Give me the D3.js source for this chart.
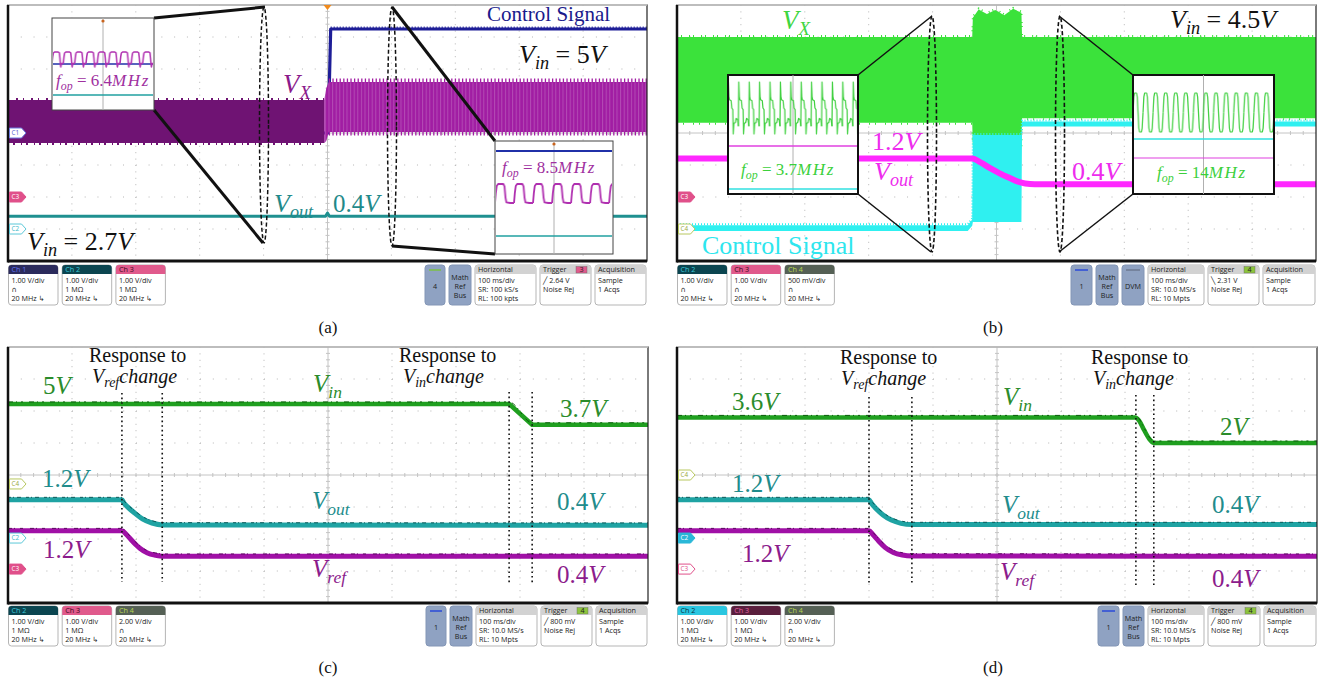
<!DOCTYPE html>
<html>
<head>
<meta charset="utf-8">
<script src="https://cdn.jsdelivr.net/npm/d3@7"></script>
<style>
  body { margin: 0; background: #fff; }
  svg { display: block; }
  .math { font-family: "Liberation Serif", "DejaVu Serif", serif; }
  .bar text { font-family: "Open Sans", "DejaVu Sans", sans-serif; font-size: 7.2px; fill: #222; }
</style>
</head>
<body>
<svg id="chart" width="1324" height="685"></svg>
<script>
// every capture: 100 ms/div over 10 divisions, time in ms
var timeSpan = [0, 1000];

// (a) Vin 2.7V -> 5V, all channels 1 V/div. Envelopes are [t, min V, max V]
var aVxBefore = [[0, 1.69, 3.03], [495, 1.69, 3.03]];
var aVxAfter = [[495, 1.69, 3.03], [498, 1.75, 3.4], [502, 2.03, 3.59], [1000, 2.03, 3.59]];
var aCtrl = [[0, 0], [501, 0], [505, 3.25], [1000, 3.25]];
var aVout = [[0, 0.4], [497, 0.4], [500, 0.5], [503, 0.4], [1000, 0.4]];

// (b) Vin = 4.5V, light load burst
var bVx = [[0, 1.66, 3.0], [462, 1.66, 3.0], [463, 1.3, 3.3], [472, 1.28, 3.43], [485, 1.3, 3.36],
  [498, 1.28, 3.42], [512, 1.3, 3.34], [526, 1.28, 3.44], [539, 1.3, 3.38], [540, 1.73, 3.0], [1000, 1.73, 3.0]];
var bCtrl = [[0, -0.03, 0.06], [455, -0.03, 0.06], [462, 0.05, 0.15], [463, 0.11, 1.47], [539, 0.11, 1.47],
  [540, 1.6, 1.68], [1000, 1.6, 1.68]];
var bVout = [[0, 1.2], [462, 1.2], [475, 1.08], [490, 0.9], [505, 0.74], [520, 0.6], [535, 0.47], [545, 0.42], [560, 0.4], [1000, 0.4]];

// (c) Vref step then Vin step 5V -> 3.7V
var cVin = [[0, 5], [783, 5], [819, 3.7], [1000, 3.7]];
var cVout = [[0, 1.2], [178, 1.2], [181, 1.1], [188, 0.95], [198, 0.78], [210, 0.6], [225, 0.47], [241, 0.41], [1000, 0.4]];
var cVref = [[0, 1.2], [178, 1.2], [185, 1.08], [195, 0.86], [206, 0.65], [218, 0.5], [231, 0.43], [241, 0.4], [1000, 0.4]];
var cMarks = [[178, 241], [783, 819]];

// (d) Vref step then Vin step 3.6V -> 2V
var dVin = [[0, 3.6], [716, 3.6], [722, 3.4], [730, 2.8], [738, 2.25], [746, 2.0], [1000, 2.0]];
var dVout = [[0, 1.2], [300, 1.2], [304, 1.08], [312, 0.9], [322, 0.72], [335, 0.56], [350, 0.46], [367, 0.42], [1000, 0.42]];
var dVref = [[0, 1.2], [300, 1.2], [306, 1.08], [315, 0.88], [325, 0.68], [338, 0.52], [352, 0.44], [367, 0.41], [1000, 0.4]];
var dMarks = [[300, 367], [717, 745]];

// zoomed insets: one switching period [phase, level 0..1] and number of periods shown
var aZoom1Period = [[0, 0.05], [0.06, 0.6], [0.12, 0.92], [0.22, 1], [0.55, 1], [0.65, 0.93], [0.7, 0.5], [0.74, 0], [0.78, -0.25], [0.83, 0.05], [1, 0.05]];
var aZoom1Cycles = 9;
var aZoom2Period = [[0, 0], [0.04, 0.5], [0.09, 0.9], [0.16, 1], [0.44, 1], [0.5, 0.88], [0.55, 0.3], [0.6, 0.03], [0.8, 0], [1, 0]];
var aZoom2Cycles = 6.2;
var bZoom1Period = [[0, 0.15], [0.04, 1], [0.09, 0.72], [0.14, 0.66], [0.3, 0.64], [0.36, 0.5], [0.46, 0.47], [0.5, 0], [0.56, 0.2], [0.7, 0.22], [0.78, 0.3], [0.92, 0.28], [1, 0.15]];
var bZoom1Cycles = 12.5;
var bZoom2Period = [[0, 0.5], [0.08, 0.9], [0.15, 1], [0.35, 1], [0.42, 0.9], [0.5, 0.5], [0.58, 0.1], [0.65, 0], [0.85, 0], [0.92, 0.1], [1, 0.5]];
var bZoom2Cycles = 14;

// status bar texts
var aChanInfo = [["Ch 1", "1.00 V/div", "\u2229", "20 MHz \u21b3"], ["Ch 2", "1.00 V/div", "1 M\u03a9", "20 MHz \u21b3"], ["Ch 3", "1.00 V/div", "1 M\u03a9", "20 MHz \u21b3"]];
var bChanInfo = [["Ch 2", "1.00 V/div", "\u2229", "20 MHz \u21b3"], ["Ch 3", "1.00 V/div", "\u2229", "20 MHz \u21b3"], ["Ch 4", "500 mV/div", "\u2229", "20 MHz \u21b3"]];
var cChanInfo = [["Ch 2", "1.00 V/div", "1 M\u03a9", "20 MHz \u21b3"], ["Ch 3", "1.00 V/div", "1 M\u03a9", "20 MHz \u21b3"], ["Ch 4", "2.00 V/div", "\u2229", "20 MHz \u21b3"]];
var dChanInfo = cChanInfo;
var aHoriz = ["100 ms/div", "SR: 100 kS/s", "RL: 100 kpts"];
var bHoriz = ["100 ms/div", "SR: 10.0 MS/s", "RL: 10 Mpts"];
var aTrig = ["3", "\u2571    2.64 V", "Noise Rej"];
var bTrig = ["4", "\u2572    2.31 V", "Noise Rej"];
var cTrig = ["4", "\u2571   800 mV", "Noise Rej"];
var acqInfo = ["Sample", "1 Acqs"];

var svg = d3.select("#chart");
var defs = svg.append("defs");

function scope(x0, y0, w, h) {
  var s = { x0: x0, y0: y0, w: w, h: h };
  s.t = d3.scaleLinear().domain(timeSpan).range([x0, x0 + w]);
  s.div = d3.scaleLinear().domain([-4, 4]).range([y0 + h, y0]);
  s.g = svg.append("g");
  var id = "clip" + x0 + "_" + y0;
  defs.append("clipPath").attr("id", id).append("rect")
    .attr("x", x0).attr("y", y0).attr("width", w).attr("height", h);
  grid(s);
  s.traces = s.g.append("g").attr("clip-path", "url(#" + id + ")");
  return s;
}

function grid(s) {
  var g = s.g.append("g");
  var dx = s.w / 10, dy = s.h / 8;
  g.append("rect").attr("x", s.x0).attr("y", s.y0).attr("width", s.w).attr("height", s.h).attr("fill", "#fff");
  d3.range(1, 10).forEach(function(i) {
    if (i === 5) return;
    g.append("line").attr("x1", s.x0 + i * dx).attr("x2", s.x0 + i * dx)
      .attr("y1", s.y0).attr("y2", s.y0 + s.h)
      .attr("stroke", "#b5b5b5").attr("stroke-dasharray", "1," + (dy / 5 - 1));
  });
  d3.range(1, 8).forEach(function(j) {
    if (j === 4) return;
    g.append("line").attr("x1", s.x0).attr("x2", s.x0 + s.w)
      .attr("y1", s.y0 + j * dy).attr("y2", s.y0 + j * dy)
      .attr("stroke", "#b5b5b5").attr("stroke-dasharray", "1," + (dx / 5 - 1));
  });
  var cx = s.x0 + 5 * dx, cy = s.y0 + 4 * dy;
  g.append("line").attr("x1", cx).attr("x2", cx).attr("y1", s.y0).attr("y2", s.y0 + s.h).attr("stroke", "#c4c4c4");
  g.append("line").attr("x1", s.x0).attr("x2", s.x0 + s.w).attr("y1", cy).attr("y2", cy).attr("stroke", "#c4c4c4");
  d3.range(1, 50).forEach(function(k) {
    g.append("line").attr("x1", s.x0 + k * dx / 5).attr("x2", s.x0 + k * dx / 5)
      .attr("y1", cy - 2).attr("y2", cy + 2).attr("stroke", "#c4c4c4");
  });
  d3.range(1, 40).forEach(function(k) {
    g.append("line").attr("x1", cx - 2).attr("x2", cx + 2)
      .attr("y1", s.y0 + k * dy / 5).attr("y2", s.y0 + k * dy / 5).attr("stroke", "#c4c4c4");
  });
}

function frame(s) {
  var g = svg.append("g");
  g.append("rect").attr("x", s.x0).attr("y", s.y0).attr("width", s.w).attr("height", s.h)
    .attr("fill", "none").attr("stroke", "#222").attr("stroke-width", 1.2);
  g.append("line").attr("x1", s.x0).attr("x2", s.x0 + s.w).attr("y1", s.y0).attr("y2", s.y0)
    .attr("stroke", "#d5d5d5").attr("stroke-width", 1.5);
  g.append("line").attr("x1", s.x0).attr("x2", s.x0).attr("y1", s.y0).attr("y2", s.y0 + s.h + 1.5)
    .attr("stroke", "#111").attr("stroke-width", 2.5);
  g.append("line").attr("x1", s.x0).attr("x2", s.x0 + s.w).attr("y1", s.y0 + s.h).attr("y2", s.y0 + s.h)
    .attr("stroke", "#111").attr("stroke-width", 3);
}

function chan(s, offset, vdiv) {
  return function(v) { return s.div(offset + v / vdiv); };
}
function lineGen(s, y) {
  return d3.line().x(function(d) { return s.t(d[0]); }).y(function(d) { return y(d[1]); });
}
function bandGen(s, y) {
  return d3.area().x(function(d) { return s.t(d[0]); })
    .y0(function(d) { return y(d[1]); }).y1(function(d) { return y(d[2]); });
}
function trace(s, data, y, color, width, curve) {
  var gen = lineGen(s, y);
  if (curve) gen.curve(d3.curveMonotoneX);
  s.traces.append("path").datum(data).attr("d", gen)
    .attr("fill", "none").attr("stroke", color).attr("stroke-width", width).attr("stroke-linejoin", "round");
  return gen;
}
// thin dashed edge that gives a trace its noisy look
function noisy(s, data, y, color, dy, dash) {
  s.traces.append("path").datum(data).attr("d", lineGen(s, y).curve(d3.curveMonotoneX))
    .attr("transform", "translate(0," + dy + ")")
    .attr("fill", "none").attr("stroke", color).attr("stroke-width", 1).attr("stroke-dasharray", dash);
}
// comb along one edge of an envelope (k = 1 for min, 2 for max)
function edge(s, data, y, k, shift, color, width, dash) {
  s.traces.append("path").datum(data)
    .attr("d", lineGen(s, y).y(function(d) { return y(d[k]) + shift; }))
    .attr("fill", "none").attr("stroke", color).attr("stroke-width", width).attr("stroke-dasharray", dash);
}

function marker(s, label, offset, stroke, fill, ink) {
  var y = s.div(offset), x = s.x0 + 1.5;
  var g = svg.append("g");
  g.append("path").attr("d", "M" + x + "," + (y - 5) + "h12l4.5,5l-4.5,5h-12z")
    .attr("fill", fill).attr("stroke", stroke).attr("stroke-width", 1);
  g.append("text").attr("x", x + 2).attr("y", y + 2.4)
    .attr("font-family", "Open Sans, sans-serif").attr("font-size", 6.4).attr("fill", ink).text(label);
}

function tex(x, y, size, color, parts) {
  var t = svg.append("text").attr("class", "math").attr("x", x).attr("y", y)
    .attr("font-size", size).attr("fill", color);
  var shift = 0;
  parts.forEach(function(p) {
    var kind = p.slice(0, 1), str = p.slice(2);
    var ts = t.append("tspan").text(str);
    if (kind === "s") {
      ts.attr("font-style", "italic").attr("font-size", size * 0.7).attr("dy", size * 0.22 - shift);
      shift = size * 0.22;
    } else {
      if (shift) ts.attr("dy", -shift);
      shift = 0;
      if (kind === "i") ts.attr("font-style", "italic");
      if (kind === "u") ts.attr("font-style", "italic").attr("letter-spacing", size * 0.1);
    }
  });
}

function insetBox(x0, y0, x1, y1, border, bw) {
  var g = svg.append("g");
  g.append("rect").attr("x", x0).attr("y", y0).attr("width", x1 - x0).attr("height", y1 - y0)
    .attr("fill", "#fff").attr("stroke", border).attr("stroke-width", bw);
  g.append("line").attr("x1", (x0 + x1) / 2).attr("x2", (x0 + x1) / 2).attr("y1", y0).attr("y2", y1)
    .attr("stroke", "#b0b0b0").attr("stroke-width", 1);
  return g;
}
function flat(g, x0, x1, y, color, w) {
  g.append("line").attr("x1", x0 + 1).attr("x2", x1 - 1).attr("y1", y).attr("y2", y)
    .attr("stroke", color).attr("stroke-width", w);
}
function wave(g, id, x0, x1, yTop, yBot, period, cycles, color, width) {
  var per = (x1 - x0) / cycles;
  var px = d3.scaleLinear().domain([0, 1]).range([0, per]);
  var py = d3.scaleLinear().domain([0, 1]).range([yBot, yTop]);
  var pat = defs.append("pattern").attr("id", id).attr("patternUnits", "userSpaceOnUse")
    .attr("x", x0).attr("y", 0).attr("width", per).attr("height", 685);
  [-1, 0, 1].forEach(function(k) {
    pat.append("path").datum(period)
      .attr("d", d3.line().x(function(d) { return px(d[0] + k); }).y(function(d) { return py(d[1]); }))
      .attr("fill", "none").attr("stroke", color).attr("stroke-width", width).attr("stroke-linejoin", "round");
  });
  g.append("rect").attr("x", x0 + 1).attr("y", yTop - 4).attr("width", x1 - x0 - 2)
    .attr("height", yBot - yTop + 8).attr("fill", "url(#" + id + ")");
}
function seg(x1, y1, x2, y2, w) {
  svg.append("line").attr("x1", x1).attr("y1", y1).attr("x2", x2).attr("y2", y2)
    .attr("stroke", "#111").attr("stroke-width", w);
}
function loop(cx, y1, y2, w) {
  svg.append("ellipse").attr("cx", cx).attr("cy", (y1 + y2) / 2).attr("rx", 4.5).attr("ry", (y2 - y1) / 2)
    .attr("fill", "none").attr("stroke", "#111").attr("stroke-width", w).attr("stroke-dasharray", "4,2.5");
}
function vmark(s, pair, y1, y2) {
  pair.forEach(function(t) {
    svg.append("line").attr("x1", s.t(t)).attr("x2", s.t(t)).attr("y1", y1).attr("y2", y2)
      .attr("stroke", "#111").attr("stroke-width", 1.6).attr("stroke-dasharray", "1.6,3");
  });
}

function roundTop(x, y0, w) {
  return "M" + x + "," + (y0 + 9) + "V" + (y0 + 3) + "Q" + x + "," + y0 + " " + (x + 3) + "," + y0 +
    "H" + (x + w - 3) + "Q" + (x + w) + "," + y0 + " " + (x + w) + "," + (y0 + 3) + "V" + (y0 + 9) + "Z";
}

// status bar under each screen
function bar(s, y0, chans, heads, right) {
  var g = svg.append("g").attr("class", "bar");
  var h = 40;
  chans.forEach(function(c, i) {
    var x = s.x0 + 0.5 + i * 53.7, w = 49.5;
    g.append("rect").attr("x", x).attr("y", y0).attr("width", w).attr("height", h).attr("rx", 3)
      .attr("fill", "#fff").attr("stroke", "#b5b5b5");
    g.append("path").attr("d", roundTop(x, y0, w)).attr("fill", heads[i][0]);
    g.append("text").attr("x", x + 3).attr("y", y0 + 7).style("fill", heads[i][1]).text(c[0]);
    c.slice(1).forEach(function(l, k) {
      g.append("text").attr("x", x + 3).attr("y", y0 + 17.5 + k * 9).text(l);
    });
  });
  var xr = s.x0 + s.w - 1;
  right.slice().reverse().forEach(function(b) {
    var w = b.w, x = xr - w;
    xr = x - 4;
    if (b.kind === "num" || b.kind === "math" || b.kind === "dvm") {
      g.append("rect").attr("x", x).attr("y", y0).attr("width", w).attr("height", h).attr("rx", 3)
        .attr("fill", "#8fa2c2").attr("stroke", "#8396b6");
      if (b.kind === "num") {
        g.append("line").attr("x1", x + 4).attr("x2", x + w - 4).attr("y1", y0 + 5).attr("y2", y0 + 5)
          .attr("stroke", b.line).attr("stroke-width", 1.5);
        g.append("text").attr("x", x + w / 2).attr("y", y0 + 24).attr("text-anchor", "middle").text(b.label);
      } else if (b.kind === "dvm") {
        g.append("line").attr("x1", x + 4).attr("x2", x + w - 4).attr("y1", y0 + 5).attr("y2", y0 + 5)
          .attr("stroke", "#6c7890").attr("stroke-width", 1.5);
        g.append("text").attr("x", x + w / 2).attr("y", y0 + 24).attr("text-anchor", "middle").text("DVM");
      } else {
        ["Math", "Ref", "Bus"].forEach(function(l, k) {
          g.append("text").attr("x", x + w / 2).attr("y", y0 + 15 + k * 9).attr("text-anchor", "middle").text(l);
        });
      }
      return;
    }
    g.append("rect").attr("x", x).attr("y", y0).attr("width", w).attr("height", h).attr("rx", 3)
      .attr("fill", "#fff").attr("stroke", "#b5b5b5");
    g.append("path").attr("d", roundTop(x, y0, w)).attr("fill", "#d2d2d2");
    g.append("text").attr("x", x + 3).attr("y", y0 + 7).text(b.head);
    if (b.kind === "trig") {
      g.append("rect").attr("x", x + w - 15).attr("y", y0 + 1.5).attr("width", 11).attr("height", 6.5)
        .attr("fill", b.badge).attr("stroke", "#666").attr("stroke-width", 0.4);
      g.append("text").attr("x", x + w - 9.5).attr("y", y0 + 7).attr("text-anchor", "middle").text(b.lines[0]);
    }
    var lines = b.kind === "trig" ? b.lines.slice(1) : b.lines;
    lines.forEach(function(l, k) {
      g.append("text").attr("x", x + 3).attr("y", y0 + 17.5 + k * 9).text(l);
    });
  });
}

function caption(x, y, label) {
  svg.append("text").attr("class", "math").attr("x", x).attr("y", y).attr("text-anchor", "middle")
    .attr("font-size", 17).attr("fill", "#111").text(label);
}

// ---------------- (a) ----------------
var A = scope(8, 5, 639, 256);
var aCh1 = chan(A, 0, 1), aCh2 = chan(A, -3, 1), aCh3 = chan(A, -2, 1);

var stripe = defs.append("pattern").attr("id", "stripeA").attr("patternUnits", "userSpaceOnUse")
  .attr("width", 3.6).attr("height", 10);
stripe.append("rect").attr("width", 3.6).attr("height", 10).attr("fill", "#a11da3");
stripe.append("rect").attr("x", 1).attr("width", 0.9).attr("height", 10).attr("fill", "#b54fb6");

trace(A, aVout, aCh2, "#1f9090", 3);
trace(A, aCtrl, aCh1, "#1d1d97", 3.2);
edge(A, aCtrl.slice(2), aCh1, 1, -1.5, "#1d1d97", 2, "1,2");
A.traces.append("path").datum(aVxBefore).attr("d", bandGen(A, aCh3)).attr("fill", "#6f1373");
A.traces.append("path").datum(aVxAfter).attr("d", bandGen(A, aCh3)).attr("fill", "url(#stripeA)");
edge(A, aVxAfter.slice(2), aCh3, 2, -1.5, "#a11da3", 4, "1.3,2.3");
edge(A, aVxAfter.slice(2), aCh3, 1, 1.5, "#a11da3", 4, "1.3,2.3");
edge(A, aVxBefore, aCh3, 1, 1, "#6f1373", 2, "1,4,2,6");
edge(A, aVxBefore, aCh3, 2, -1, "#6f1373", 2, "1,7,2,5");
frame(A);
svg.append("path").attr("d", "M" + (A.t(500) - 4) + "," + A.y0 + "h8l-4,5z").attr("fill", "#f08a1c");
marker(A, "C1", 0, "#6d7be0", "#fff", "#5560d0");
marker(A, "C3", -2, "#e0508a", "#e0508a", "#fff");
marker(A, "C2", -3, "#5cc8d8", "#fff", "#3cb8c8");

// zoom at the left (Vin = 2.7V)
seg(154, 18, 265, 7, 3);
seg(154, 110, 263, 243, 3);
loop(264, 7, 243, 1.5);
var aZ1 = insetBox(52, 18, 154, 110, "#444", 1);
aZ1.append("circle").attr("cx", 103).attr("cy", 21).attr("r", 1.6).attr("fill", "#c8641e");
flat(aZ1, 52, 154, 64, "#2030a8", 1.6);
wave(aZ1, "wA1", 52, 154, 52, 64, aZoom1Period, aZoom1Cycles, "#b030b0", 1.5);
flat(aZ1, 52, 154, 95, "#20a0a0", 1.3);
tex(56, 86, 17, "#a030a0", ["i:f", "s:op", "r: = 6.4", "u:MHz"]);

// zoom at the right (Vin = 5V)
seg(392, 7, 495, 141, 3);
seg(392, 246, 495, 254, 3);
loop(392, 7, 246, 1.5);
var aZ2 = insetBox(495, 141, 613, 254, "#444", 1);
aZ2.append("circle").attr("cx", 554).attr("cy", 144).attr("r", 1.6).attr("fill", "#c8641e");
flat(aZ2, 495, 613, 151, "#2030a8", 1.8);
wave(aZ2, "wA2", 495, 613, 184, 203, aZoom2Period, aZoom2Cycles, "#b030b0", 1.8);
flat(aZ2, 495, 613, 236, "#20a0a0", 1.3);
tex(502, 173, 17, "#a030a0", ["i:f", "s:op", "r: = 8.5", "u:MHz"]);

tex(283, 93, 27, "#8b1a8b", ["i:V", "s:X"]);
tex(274, 212, 26, "#1f8a8a", ["i:V", "s:out"]);
tex(333, 212, 25, "#1f8a8a", ["r:0.4", "i:V"]);
tex(27, 250, 26, "#111", ["i:V", "s:in", "r: = 2.7", "i:V"]);
tex(519, 63, 26, "#111", ["i:V", "s:in", "r: = 5", "i:V"]);
tex(487, 21, 21, "#1a1a8c", ["r:Control Signal"]);

bar(A, 265, aChanInfo, [["#2b2b5c", "#6070f0"], ["#0b4550", "#3cc8d8"], ["#e05a8c", "#3a0a20"]], [
  { kind: "num", w: 20, label: "4", line: "#7bc043" },
  { kind: "math", w: 22 },
  { kind: "info", w: 61, head: "Horizontal", lines: aHoriz },
  { kind: "trig", w: 51, head: "Trigger", badge: "#e05a8c", lines: aTrig },
  { kind: "info", w: 51, head: "Acquisition", lines: acqInfo }
]);
caption(328, 333, "(a)");

// ---------------- (b) ----------------
var B = scope(677, 5, 639, 256);
var bCh3 = chan(B, -2, 1), bCh4 = chan(B, -3, 0.5);
B.traces.append("path").datum(bVx).attr("d", bandGen(B, bCh4)).attr("fill", "#3be23b");
edge(B, bVx, bCh4, 2, -1, "#3be23b", 2, "1,3,1,7");
edge(B, bVx, bCh4, 1, 1, "#3be23b", 2, "1,5,1,9");
B.traces.append("path").datum(bCtrl).attr("d", bandGen(B, bCh4)).attr("fill", "#2ff0f0");
edge(B, bCtrl, bCh4, 2, -1, "#2ff0f0", 2, "1,2");
trace(B, bVout, bCh3, "#ff28ff", 6, true);
frame(B);
marker(B, "C3", -2, "#e0508a", "#e0508a", "#fff");
marker(B, "C4", -3, "#b8c860", "#fff", "#9aaa40");

seg(858, 75, 932, 16, 1.5);
seg(858, 194, 931, 252, 1.5);
loop(932, 16, 252, 1.6);
var bZ1 = insetBox(728, 75, 858, 194, "#111", 2);
wave(bZ1, "wB1", 728, 858, 82, 134, bZoom1Period, bZoom1Cycles, "#3fd03f", 1.2);
flat(bZ1, 728, 858, 146, "#e040e0", 1.5);
flat(bZ1, 728, 858, 189, "#30e0e0", 1.5);
tex(741, 175, 17, "#3cd03c", ["i:f", "s:op", "r: = 3.7", "u:MHz"]);

seg(1059, 16, 1133, 75, 1.5);
seg(1059, 252, 1133, 194, 1.5);
loop(1060, 16, 252, 1.6);
var bZ2 = insetBox(1133, 75, 1274, 194, "#111", 2);
wave(bZ2, "wB2", 1133, 1274, 93, 132, bZoom2Period, bZoom2Cycles, "#3fd03f", 1.2);
flat(bZ2, 1133, 1274, 139, "#30e0e0", 1.5);
flat(bZ2, 1133, 1274, 158, "#e040e0", 1.2);
tex(1157, 178, 17, "#3cd03c", ["i:f", "s:op", "r: = 14", "u:MHz"]);

tex(782, 29, 27, "#3fd63f", ["i:V", "s:X"]);
tex(872, 150, 26, "#ee2bee", ["r:1.2", "i:V"]);
tex(874, 180, 26, "#ee2bee", ["i:V", "s:out"]);
tex(1072, 180, 26, "#ee2bee", ["r:0.4", "i:V"]);
tex(702, 254, 26, "#2ee6ee", ["r:Control Signal"]);
tex(1170, 28, 26, "#111", ["i:V", "s:in", "r: = 4.5", "i:V"]);

bar(B, 265, bChanInfo, [["#0b4550", "#3cc8d8"], ["#e05a8c", "#3a0a20"], ["#556055", "#b8d850"]], [
  { kind: "num", w: 21, label: "1", line: "#2a4ad8" },
  { kind: "math", w: 22 },
  { kind: "dvm", w: 22 },
  { kind: "info", w: 56, head: "Horizontal", lines: bHoriz },
  { kind: "trig", w: 51, head: "Trigger", badge: "#8cc43c", lines: bTrig },
  { kind: "info", w: 52, head: "Acquisition", lines: acqInfo }
]);
caption(993, 333, "(b)");

// ---------------- (c) ----------------
var C = scope(8, 347, 640, 256);
var cCh2 = chan(C, -1.97, 1), cCh3 = chan(C, -2.94, 1), cCh4 = chan(C, -0.28, 2);
trace(C, cVin, cCh4, "#1f9f1f", 4.5, false);
noisy(C, cVin, cCh4, "#0c5c0c", -2, "5,3,1,4,2,6");
trace(C, cVref, cCh3, "#a010a6", 5, true);
noisy(C, cVref, cCh3, "#5a0a5e", -2.3, "4,2,1,5,3,7");
trace(C, cVout, cCh2, "#1fa3a3", 5, true);
noisy(C, cVout, cCh2, "#0d5a5a", -2.3, "3,2,1,3,4,5");
frame(C);
marker(C, "C4", -0.28, "#b8c860", "#fff", "#9aaa40");
marker(C, "C2", -1.97, "#5cc8d8", "#fff", "#3cb8c8");
marker(C, "C3", -2.94, "#e0508a", "#e0508a", "#fff");
vmark(C, cMarks[0], 393, 582);
vmark(C, cMarks[1], 392, 583);

tex(89, 362, 20, "#111", ["r:Response to"]);
tex(92, 383, 20, "#111", ["i:V", "s:ref", "i:change"]);
tex(399, 362, 20, "#111", ["r:Response to"]);
tex(403, 383, 20, "#111", ["i:V", "s:in", "i:change"]);
tex(43, 394, 25, "#2b8c2b", ["r:5", "i:V"]);
tex(313, 392, 25, "#2b8c2b", ["i:V", "s:in"]);
tex(560, 417, 25, "#2b8c2b", ["r:3.7", "i:V"]);
tex(42, 487, 25, "#218c8c", ["r:1.2", "i:V"]);
tex(312, 509, 25, "#218c8c", ["i:V", "s:out"]);
tex(557, 510, 25, "#218c8c", ["r:0.4", "i:V"]);
tex(43, 558, 25, "#8c1c8c", ["r:1.2", "i:V"]);
tex(312, 577, 25, "#8c1c8c", ["i:V", "s:ref"]);
tex(557, 583, 25, "#8c1c8c", ["r:0.4", "i:V"]);

bar(C, 606, cChanInfo, [["#0b4550", "#3cc8d8"], ["#e05a8c", "#3a0a20"], ["#556055", "#b8d850"]], [
  { kind: "num", w: 20, label: "1", line: "#2a4ad8" },
  { kind: "math", w: 22 },
  { kind: "info", w: 61, head: "Horizontal", lines: bHoriz },
  { kind: "trig", w: 51, head: "Trigger", badge: "#8cc43c", lines: cTrig },
  { kind: "info", w: 51, head: "Acquisition", lines: acqInfo }
]);
caption(328, 673, "(c)");

// ---------------- (d) ----------------
var D = scope(677, 347, 640, 256);
var dCh2 = chan(D, -1.97, 1), dCh3 = chan(D, -2.94, 1), dCh4 = chan(D, 0, 2);
trace(D, dVin, dCh4, "#1f9f1f", 4.5, true);
noisy(D, dVin, dCh4, "#0c5c0c", -2, "5,3,1,4,2,6");
trace(D, dVref, dCh3, "#a010a6", 5, true);
noisy(D, dVref, dCh3, "#5a0a5e", -2.3, "4,2,1,5,3,7");
trace(D, dVout, dCh2, "#1fa3a3", 5, true);
noisy(D, dVout, dCh2, "#0d5a5a", -2.3, "3,2,1,3,4,5");
frame(D);
marker(D, "C4", 0, "#b8c860", "#fff", "#9aaa40");
marker(D, "C2", -1.97, "#2ab8d8", "#2ab8d8", "#fff");
marker(D, "C3", -2.94, "#e0508a", "#fff", "#e0508a");
vmark(D, dMarks[0], 397, 585);
vmark(D, dMarks[1], 395, 585);

tex(840, 364, 20, "#111", ["r:Response to"]);
tex(841, 385, 20, "#111", ["i:V", "s:ref", "i:change"]);
tex(1091, 364, 20, "#111", ["r:Response to"]);
tex(1093, 385, 20, "#111", ["i:V", "s:in", "i:change"]);
tex(732, 410, 25, "#2b8c2b", ["r:3.6", "i:V"]);
tex(1003, 405, 25, "#2b8c2b", ["i:V", "s:in"]);
tex(1220, 435, 25, "#2b8c2b", ["r:2", "i:V"]);
tex(732, 492, 25, "#218c8c", ["r:1.2", "i:V"]);
tex(1002, 513, 25, "#218c8c", ["i:V", "s:out"]);
tex(1212, 513, 25, "#218c8c", ["r:0.4", "i:V"]);
tex(742, 562, 25, "#8c1c8c", ["r:1.2", "i:V"]);
tex(1000, 580, 25, "#8c1c8c", ["i:V", "s:ref"]);
tex(1212, 587, 25, "#8c1c8c", ["r:0.4", "i:V"]);

bar(D, 606, dChanInfo, [["#2ac6e0", "#0a3040"], ["#5a1f3d", "#e060a0"], ["#556055", "#b8d850"]], [
  { kind: "num", w: 21, label: "1", line: "#2a4ad8" },
  { kind: "math", w: 21 },
  { kind: "info", w: 56, head: "Horizontal", lines: bHoriz },
  { kind: "trig", w: 52, head: "Trigger", badge: "#8cc43c", lines: cTrig },
  { kind: "info", w: 52, head: "Acquisition", lines: acqInfo }
]);
caption(993, 673, "(d)");
</script>
</body>
</html>
